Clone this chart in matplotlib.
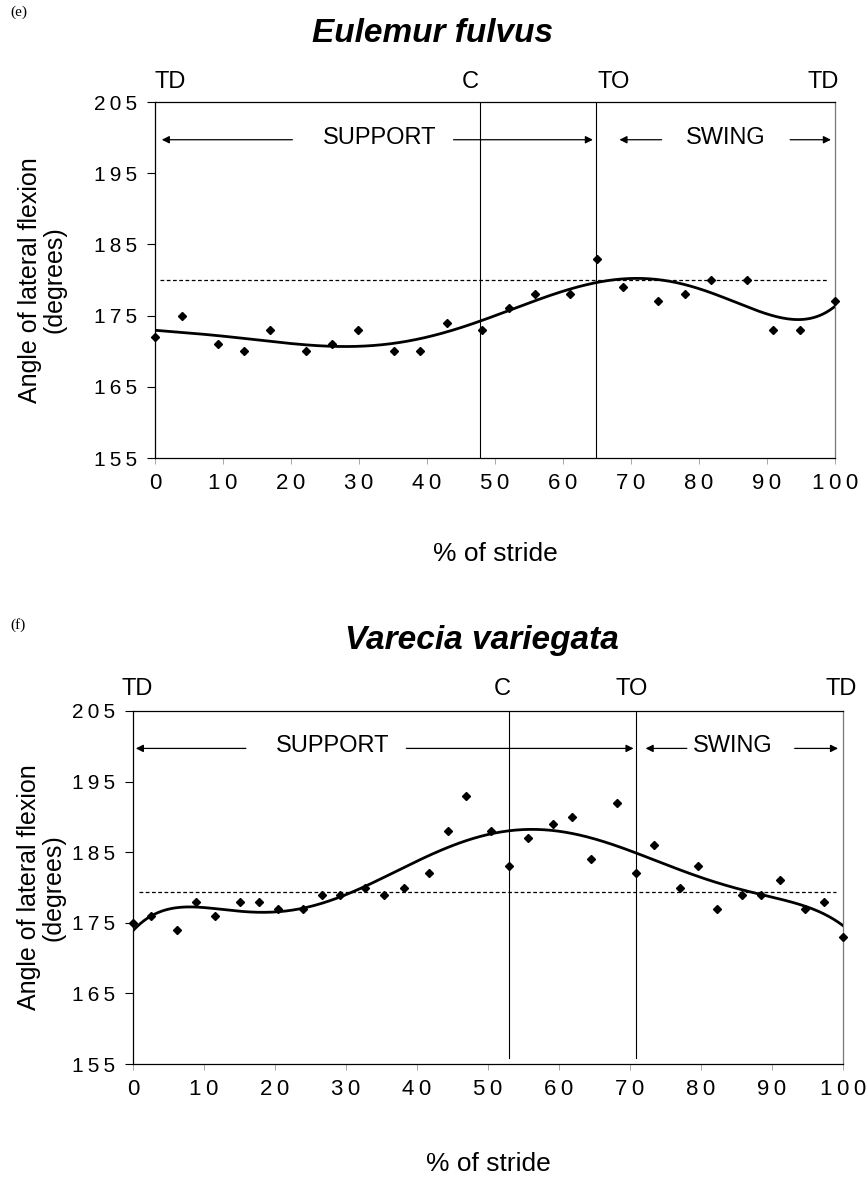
import numpy as np
import matplotlib
matplotlib.use('Agg')
import matplotlib.pyplot as plt
from matplotlib.ticker import FuncFormatter

# Eulemur fulvus: angle of lateral flexion over the stride
ef_stride = [0, 3.9, 9.2, 13.1, 16.9, 22.2, 26.1, 29.9, 35.1, 39.0, 42.9, 48.1,
             52.0, 55.9, 61.0, 65.0, 68.8, 74.0, 78.0, 81.8, 87.0, 90.9, 94.8, 100]
ef_angle = [172, 175, 171, 170, 173, 170, 171, 173, 170, 170, 174, 173,
            176, 178, 178, 183, 179, 177, 178, 180, 180, 173, 173, 177]
ef_mean = 180.0
ef_contact = 47.8
ef_toe_off = 64.8

# Varecia variegata
vv_stride = [0, 2.5, 6.2, 8.9, 11.5, 15.1, 17.7, 20.4, 24.0, 26.6, 29.2, 32.7,
             35.4, 38.1, 41.7, 44.3, 46.9, 50.4, 53.0, 55.6, 59.2, 61.8, 64.5,
             68.1, 70.8, 73.4, 77.0, 79.6, 82.3, 85.8, 88.4, 91.1, 94.7, 97.3, 100]
vv_angle = [175, 176, 174, 178, 176, 178, 178, 177, 177, 179, 179, 180,
            179, 180, 182, 188, 193, 188, 183, 187, 189, 190, 184,
            192, 182, 186, 180, 183, 177, 179, 179, 181, 177, 178, 173]
vv_mean = 179.3
vv_contact = 52.9
vv_toe_off = 70.9

x_ticks = list(range(0, 101, 10))
y_ticks = [155, 165, 175, 185, 195, 205]

plt.rcParams['font.family'] = ['Liberation Sans', 'DejaVu Sans']

spaced = FuncFormatter(lambda v, pos: '\u2009'.join(str(int(round(v)))))


def draw_panel(ax, stride, angle, mean, contact, toe_off, layout):
    ax.set_xlim(0, 100)
    ax.set_ylim(155, 205)
    ax.set_xticks(x_ticks)
    ax.set_yticks(y_ticks)
    ax.xaxis.set_major_formatter(spaced)
    ax.yaxis.set_major_formatter(spaced)
    ax.tick_params(axis='x', length=4, width=0.6, color='#999999', pad=7, labelsize=16)
    ax.tick_params(axis='y', length=6, width=0.8, pad=7, labelsize=15)
    for s in ax.spines.values():
        s.set_linewidth(0.9)
    ax.spines['right'].set_color('#777777')

    # 6th order polynomial trend through the points
    coef = np.polyfit(stride, angle, 6)
    xs = np.linspace(0, 100, 400)
    ax.plot(xs, np.polyval(coef, xs), color='black', lw=2.0, zorder=3)
    ax.plot(stride, angle, 'D', color='black', ms=4.4, zorder=4, clip_on=False)
    ax.plot([0.8, 99], [mean, mean], color='black', lw=0.9, ls=(0, (3, 2)))

    ax.axvline(contact, ymin=layout['vline_min'], color='black', lw=0.8)
    ax.axvline(toe_off, ymin=layout['vline_min'], color='black', lw=0.8)

    # stride event labels above the frame
    ly = layout['label_y']
    for xpos, lab in zip(layout['label_x'], ['TD', 'C', 'TO', 'TD']):
        ax.text(xpos, ly, lab, ha='center', va='bottom', fontsize=17, clip_on=False)

    # phase arrows
    for tail, head in layout['arrows']:
        ax.annotate('', xy=(head, 199.7), xytext=(tail, 199.7),
                    arrowprops=dict(arrowstyle='-|>', color='black', lw=0.9,
                                    mutation_scale=11, shrinkA=0, shrinkB=0))
    ax.text(layout['support_x'], 200, 'SUPPORT', ha='center', va='center', fontsize=17)
    ax.text(layout['swing_x'], 200, 'SWING', ha='center', va='center', fontsize=17)

    ax.set_xlabel('% of stride', fontsize=19)
    ax.xaxis.set_label_coords(0.5, layout['xlabel_y'])
    ax.set_ylabel('Angle of lateral flexion\n(degrees)', fontsize=18, linespacing=1.05)
    ax.yaxis.set_label_coords(layout['ylabel_x'], 0.5)


fig = plt.figure(figsize=(8.66, 11.89), dpi=100)

ax1 = fig.add_axes([155 / 866, 1 - 458 / 1189, 680 / 866, 356 / 1189])
draw_panel(ax1, ef_stride, ef_angle, ef_mean, ef_contact, ef_toe_off, dict(
    vline_min=0, label_y=206.3, label_x=[2.2, 46.4, 67.4, 98.3],
    arrows=[(20.2, 1.0), (43.9, 64.4), (74.5, 68.3), (93.4, 99.4)],
    support_x=33.0, swing_x=84.0, xlabel_y=-0.236, ylabel_x=-0.13))

ax2 = fig.add_axes([133 / 866, 1 - 1064 / 1189, 710 / 866, 353 / 1189])
draw_panel(ax2, vv_stride, vv_angle, vv_mean, vv_contact, vv_toe_off, dict(
    vline_min=0.016, label_y=206.6, label_x=[0.6, 52.0, 70.3, 99.8],
    arrows=[(15.9, 0.4), (38.5, 70.5), (78.0, 72.2), (93.2, 99.3)],
    support_x=28.1, swing_x=84.5, xlabel_y=-0.25, ylabel_x=-0.095))

fig.text(0.500, 0.972, 'Eulemur fulvus', ha='center', va='center', fontsize=24,
         fontweight='bold', fontstyle='italic')
fig.text(0.557, 0.461, 'Varecia variegata', ha='center', va='center', fontsize=24,
         fontweight='bold', fontstyle='italic')
fig.text(0.012, 0.99, '(e)', ha='left', va='center', fontsize=11, family='Liberation Serif')
fig.text(0.012, 0.474, '(f)', ha='left', va='center', fontsize=11, family='Liberation Serif')

fig.savefig('out.png', dpi=100)
